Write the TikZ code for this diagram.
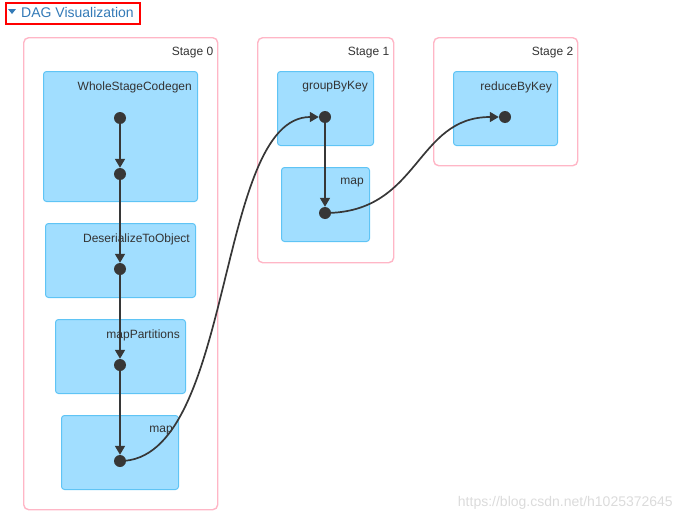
\documentclass[tikz,border=0pt]{standalone}
\usepackage{fontspec}
\setmainfont{Liberation Sans}
\usepackage{xcolor}
\usetikzlibrary{positioning,arrows.meta,calc}

\definecolor{linkblue}{RGB}{51,122,183}
\definecolor{opfill}{RGB}{161,222,255}
\definecolor{opline}{RGB}{95,196,245}
\definecolor{stagepink}{RGB}{255,182,198}
\definecolor{dotgray}{RGB}{55,55,55}

\begin{document}
\begin{tikzpicture}[
  x=1pt, y=-1pt,
  font=\fontsize{12}{14}\selectfont,
  stage/.style={draw=stagepink, line width=1.4pt, rectangle, rounded corners=5pt, anchor=north west, inner sep=0},
  op/.style={draw=opline, fill=opfill, line width=1pt, rectangle, rounded corners=3pt, anchor=north west, inner sep=0},
  lbl/.style={inner sep=0, text=black!80},
  dot/.style={circle, fill=dotgray, minimum size=12pt, inner sep=0},
  arr/.style={-{Triangle[length=9pt,width=10pt]}, draw=dotgray, line width=1.7pt}
]
  \useasboundingbox (0,0) rectangle (683,522);

  % header
  \node[draw=red, line width=2pt, anchor=north west, minimum width=134pt, minimum height=21pt, inner sep=0] (hdr) at (5,2) {};
  \fill[linkblue] (8,9) -- (16,9) -- (12,14) -- cycle;
  \node[font=\fontsize{14}{16}\selectfont, text=linkblue, anchor=west, inner sep=0] (title) at (21,12) {DAG Visualization};

  % stages
  \node[stage, minimum width=194pt, minimum height=472pt] (st0) at (23,37) {};
  \node[stage, minimum width=136pt, minimum height=225pt] (st1) at (257,37) {};
  \node[stage, minimum width=144pt, minimum height=128pt] (st2) at (433,37) {};
  \node[lbl, below left=10pt and 5pt of st0.north east] {Stage 0};
  \node[lbl, below left=10pt and 5pt of st1.north east] {Stage 1};
  \node[lbl, below left=10pt and 5pt of st2.north east] {Stage 2};

  % operators
  \node[op, minimum width=154pt, minimum height=130pt] (wsc) at (43,71) {};
  \node[op, minimum width=150pt, minimum height=74pt] (des) at (45,223) {};
  \node[op, minimum width=130pt, minimum height=74pt] (mpp) at (55,319) {};
  \node[op, minimum width=117pt, minimum height=74pt] (map0) at (61,415) {};
  \node[op, minimum width=96pt, minimum height=74pt] (gbk) at (277,71) {};
  \node[op, minimum width=88pt, minimum height=74pt] (map1) at (281,167) {};
  \node[op, minimum width=104pt, minimum height=74pt] (rbk) at (453,71) {};
  \node[lbl, below left=10.5pt and 6pt of wsc.north east] {WholeStageCodegen};
  \node[lbl, below left=10.5pt and 6pt of des.north east] {DeserializeToObject};
  \node[lbl, below left=10.5pt and 6pt of mpp.north east] {mapPartitions};
  \node[lbl, below left=10.5pt and 6pt of map0.north east] {map};
  \node[lbl, below left=10.5pt and 6pt of gbk.north east] {groupByKey};
  \node[lbl, below left=10.5pt and 6pt of map1.north east] {map};
  \node[lbl, below left=10.5pt and 6pt of rbk.north east] {reduceByKey};

  % dots
  \node[dot] (d1) at (120,118) {};
  \node[dot] (d2) at (120,174) {};
  \node[dot] (d3) at (120,269) {};
  \node[dot] (d4) at (120,365) {};
  \node[dot] (d5) at (120,461) {};
  \node[dot] (g1) at (325,117) {};
  \node[dot] (g2) at (325,213) {};
  \node[dot] (r1) at (505,117) {};

  % edges
  \draw[arr] (d1) -- (d2);
  \draw[arr] (d2) -- (d3);
  \draw[arr] (d3) -- (d4);
  \draw[arr] (d4) -- (d5);
  \draw[arr] (d5.center) .. controls +(115,0) and +(-110,0) .. (g1);
  \draw[arr] (g1) -- (g2);
  \draw[arr] (g2.center) .. controls +(95,0) and +(-90,0) .. (r1);

  % watermark
  \node[text=black!14, font=\fontsize{14}{16}\selectfont, anchor=east, inner sep=0] (wm) at (673,503) {https://blog.csdn.net/h1025372645};
\end{tikzpicture}
\end{document}
